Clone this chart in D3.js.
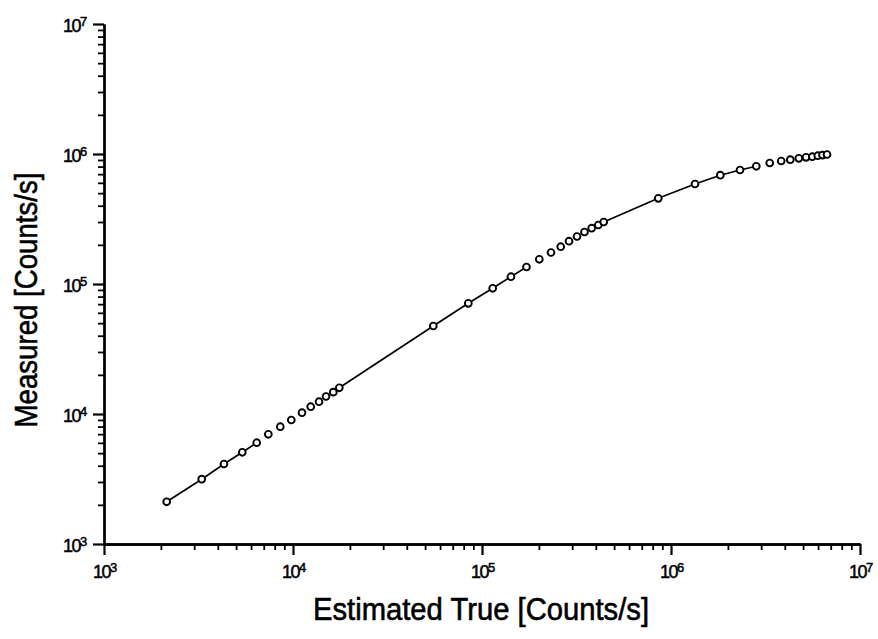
<!DOCTYPE html>
<html>
<head>
<meta charset="utf-8">
<script src="https://cdn.jsdelivr.net/npm/d3@7"></script>
<style>
  html, body { margin: 0; padding: 0; background: #fff; }
  svg { display: block; }
  text { fill: #000; }
</style>
</head>
<body>
<svg id="chart" width="878" height="639"></svg>
<script>
// ---- data ----
const trueRate = [
  2146, 3289, 4313, 5392, 6427, 7403, 8565, 9795, 11160, 12410, 13730, 14950, 16340, 17580,
  55250, 84630, 113900, 142300, 171900, 201000, 231800, 260900, 288600, 318200, 348500,
  380500, 412400, 440500, 856500, 1340000, 1823000, 2318000, 2827000, 3329000, 3830000,
  4278000, 4745000, 5181000, 5593000, 5980000, 6333000, 6690000
];
const measuredRate = [
  2112, 3152, 4125, 5075, 6013, 6980, 7984, 8993, 10233, 11380, 12430, 13630, 14720, 15910,
  47530, 71040, 92670, 113800, 135100, 154900, 174700, 193600, 213400, 232000, 251200,
  268700, 284300, 299900, 456200, 587700, 687000, 753300, 804300, 852800, 883500,
  904000, 926600, 943100, 953200, 970300, 980600, 991300
];
// index ranges of points joined by the drawn line
const lineSegments = [[0, 4], [13, 18], [27, 32]];
const majorExponents = [3, 4, 5, 6, 7];
const xTitle = "Estimated True [Counts/s]";
const yTitle = "Measured [Counts/s]";

// ---- layout ----
const svg = d3.select("#chart");
const mLeft = 104, mRight = 860, mTop = 24, mBottom = 544;
const x = d3.scaleLog().domain([1e3, 1e7]).range([mLeft, mRight]);
const y = d3.scaleLog().domain([1e3, 1e7]).range([mBottom, mTop]);

const majors = majorExponents.map(e => Math.pow(10, e));
const minors = [];
for (let e = 3; e < 7; e++) for (let m = 2; m <= 9; m++) minors.push(m * Math.pow(10, e));

const FONT = "'Liberation Sans Narrow', 'Arial Narrow', 'Liberation Sans', Arial, sans-serif";

function styleAxis(g, w) {
  g.selectAll("path.domain").attr("stroke", "#000").attr("stroke-width", 2.3);
  g.selectAll(".tick line").attr("stroke", "#000").attr("stroke-width", w);
  g.selectAll(".tick text").remove();
}

// x axis
const gx = svg.append("g").attr("transform", `translate(0,${mBottom})`);
gx.append("g").call(d3.axisBottom(x).tickValues(minors).tickSize(6).tickSizeOuter(0).tickFormat(""))
  .call(g => styleAxis(g, 1.8));
gx.append("g").call(d3.axisBottom(x).tickValues(majors).tickSize(11).tickSizeOuter(0).tickFormat(""))
  .call(g => styleAxis(g, 2.2));

// y axis
const gy = svg.append("g").attr("transform", `translate(${mLeft},0)`);
gy.append("g").call(d3.axisLeft(y).tickValues(minors).tickSize(6).tickSizeOuter(0).tickFormat(""))
  .call(g => styleAxis(g, 1.8));
gy.append("g").call(d3.axisLeft(y).tickValues(majors).tickSize(11).tickSizeOuter(0).tickFormat(""))
  .call(g => styleAxis(g, 2.2));

// tick labels: 10 with superscript exponent
function powLabel(sel, e) {
  sel.append("tspan").text("10").attr("font-size", 18).attr("letter-spacing", -1.5);
  sel.append("tspan").text(String(e)).attr("font-size", 13).attr("dy", -6).attr("dx", 0);
}
svg.append("g").selectAll("text").data(majorExponents).join("text")
  .attr("x", e => x(Math.pow(10, e)) - 11)
  .attr("y", mBottom + 34)
  .attr("font-family", FONT)
  .attr("stroke", "#000").attr("stroke-width", 0.5)
  .each(function (e) { powLabel(d3.select(this), e); });

svg.append("g").selectAll("text").data(majorExponents).join("text")
  .attr("x", mLeft - 41)
  .attr("y", e => y(Math.pow(10, e)) + 8)
  .attr("font-family", FONT)
  .attr("stroke", "#000").attr("stroke-width", 0.5)
  .each(function (e) { powLabel(d3.select(this), e); });

// axis titles
svg.append("text")
  .attr("x", 481).attr("y", 620)
  .attr("text-anchor", "middle")
  .attr("font-family", FONT).attr("font-size", 31)
  .attr("stroke", "#000").attr("stroke-width", 0.6)
  .attr("textLength", 336).attr("lengthAdjust", "spacingAndGlyphs")
  .text(xTitle);

svg.append("text")
  .attr("transform", "translate(37,300) rotate(-90)")
  .attr("text-anchor", "middle")
  .attr("font-family", FONT).attr("font-size", 31)
  .attr("stroke", "#000").attr("stroke-width", 0.6)
  .attr("textLength", 255).attr("lengthAdjust", "spacingAndGlyphs")
  .text(yTitle);

// line segments
const pts = trueRate.map((t, i) => [t, measuredRate[i]]);
const line = d3.line().x(d => x(d[0])).y(d => y(d[1]));
svg.append("g").selectAll("path").data(lineSegments).join("path")
  .attr("d", s => line(pts.slice(s[0], s[1] + 1)))
  .attr("fill", "none").attr("stroke", "#000").attr("stroke-width", 1.7);

// points
svg.append("g").selectAll("circle").data(pts).join("circle")
  .attr("cx", d => x(d[0])).attr("cy", d => y(d[1]))
  .attr("r", 3.4)
  .attr("fill", "#fff").attr("stroke", "#000").attr("stroke-width", 1.9);
</script>
</body>
</html>
